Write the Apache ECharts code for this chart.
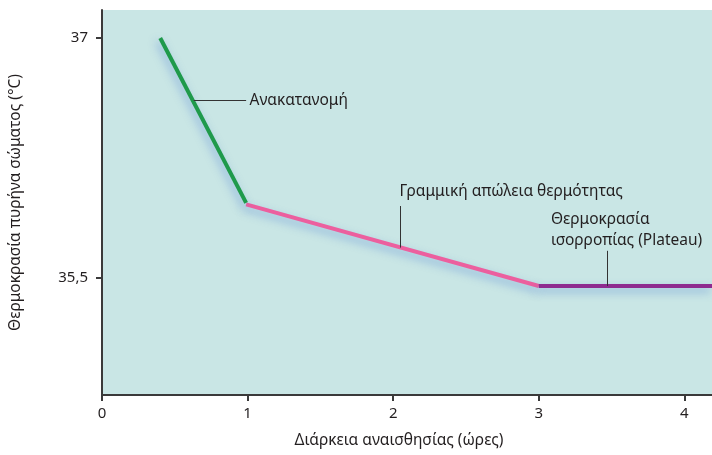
<!DOCTYPE html>
<html>
<head>
<meta charset="utf-8">
<script src="https://cdn.jsdelivr.net/npm/echarts@6/dist/echarts.min.js"></script>
<style>
  html, body { margin: 0; padding: 0; background: #fff; }
  #chart { width: 712px; height: 455px; }
</style>
</head>
<body>
<div id="chart"></div>
<script>
// x = ώρες, y = °C
const redistribution = [[0.4, 37.0], [0.99, 35.97]]
const linearLoss = [[0.99, 35.96], [3.0, 35.45]]
const plateau = [[3.0, 35.45], [4.19, 35.45]]

const xTicks = [0, 1, 2, 3, 4]
const yTicks = [35.5, 37]

const font = '"Noto Sans", sans-serif'
const textColor = '#231f20'

let chart = echarts.init(document.getElementById('chart'))

const glow = {
  shadowColor: 'rgba(70, 120, 210, 0.5)',
  shadowBlur: 9,
  shadowOffsetX: -2,
  shadowOffsetY: 4
}

const leader = (from, to) => [{ coord: from }, { coord: to }]

const note = (coord, text) => ({
  coord: coord,
  symbol: 'circle',
  symbolSize: 1,
  itemStyle: { color: 'rgba(0,0,0,0)' },
  label: {
    show: true,
    formatter: text,
    position: 'right',
    distance: 0,
    align: 'left',
    verticalAlign: 'middle',
    color: textColor,
    fontFamily: font,
    fontSize: 15.5,
    lineHeight: 21
  }
})

const markLineBase = {
  silent: true,
  symbol: 'none',
  label: { show: false },
  lineStyle: { color: '#333', width: 1, type: 'solid' },
  emphasis: { disabled: true }
}

let option = {
  animation: false,
  grid: {
    left: 100,
    right: 0,
    top: 10,
    bottom: 60,
    show: true,
    backgroundColor: '#c9e6e5',
    borderWidth: 0
  },
  xAxis: {
    type: 'value',
    min: 0,
    max: 4.19,
    name: 'Διάρκεια αναισθησίας (ώρες)',
    nameLocation: 'middle',
    nameGap: 38,
    nameTextStyle: { color: textColor, fontFamily: font, fontSize: 15.5, padding: [0, 16, 0, 0] },
    axisLine: { lineStyle: { color: '#3a3a3a', width: 2 } },
    axisTick: { show: true, customValues: xTicks, length: 6, lineStyle: { color: '#3a3a3a', width: 2 } },
    axisLabel: { customValues: xTicks, color: textColor, fontFamily: font, fontSize: 15, margin: 11 },
    splitLine: { show: false }
  },
  yAxis: {
    type: 'value',
    min: 34.769,
    max: 37.175,
    name: 'Θερμοκρασία πυρήνα σώματος (°C)',
    nameLocation: 'middle',
    nameGap: 78,
    nameTextStyle: { color: textColor, fontFamily: font, fontSize: 15.5 },
    axisLine: { show: true, lineStyle: { color: '#3a3a3a', width: 2 } },
    axisTick: { show: true, customValues: yTicks, length: 6, lineStyle: { color: '#3a3a3a', width: 2 } },
    axisLabel: {
      customValues: yTicks,
      color: textColor,
      fontFamily: font,
      fontSize: 15,
      margin: 14,
      formatter: v => String(v).replace('.', ',')
    },
    splitLine: { show: false }
  },
  series: [
    {
      name: 'Ανακατανομή',
      type: 'line',
      data: redistribution,
      symbol: 'none',
      lineStyle: Object.assign({ color: '#1f9a4b', width: 4 }, glow),
      z: 3,
      markLine: Object.assign({}, markLineBase, {
        data: [leader([0.63, 36.61], [0.99, 36.61])]
      }),
      markPoint: { silent: true, data: [note([1.01, 36.61], 'Ανακατανομή')] }
    },
    {
      name: 'Γραμμική απώλεια θερμότητας',
      type: 'line',
      data: linearLoss,
      symbol: 'none',
      lineStyle: Object.assign({ color: '#ec5f9e', width: 4 }, glow),
      z: 2,
      markLine: Object.assign({}, markLineBase, {
        data: [leader([2.05, 35.69], [2.05, 35.95])]
      }),
      markPoint: { silent: true, data: [note([2.04, 36.04], 'Γραμμική απώλεια θερμότητας')] }
    },
    {
      name: 'Θερμοκρασία ισορροπίας (Plateau)',
      type: 'line',
      data: plateau,
      symbol: 'none',
      lineStyle: Object.assign({ color: '#8e2b8f', width: 4 }, glow),
      z: 2,
      markLine: Object.assign({}, markLineBase, {
        data: [leader([3.47, 35.45], [3.47, 35.67])]
      }),
      markPoint: { silent: true, data: [note([3.08, 35.80], 'Θερμοκρασία\nισορροπίας (Plateau)')] }
    }
  ]
}

chart.setOption(option)
</script>
</body>
</html>
